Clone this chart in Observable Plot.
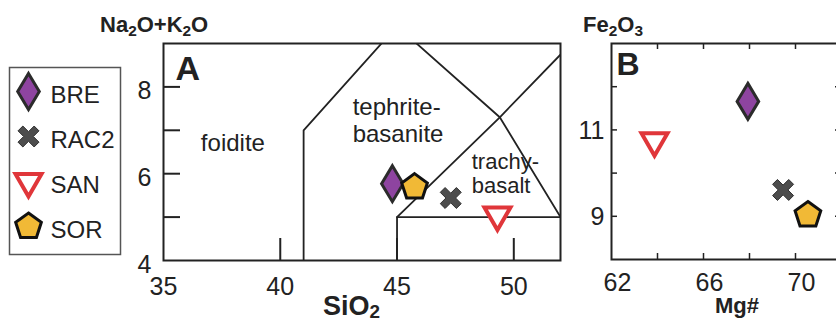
<!DOCTYPE html>
<html>
<head>
<meta charset="utf-8">
<script src="https://cdn.jsdelivr.net/npm/d3@7"></script>
<script src="https://cdn.jsdelivr.net/npm/@observablehq/plot@0.6"></script>
<style>
  html, body { margin: 0; padding: 0; background: #fff; overflow: hidden; }
  #chart { position: relative; width: 836px; height: 323px; overflow: hidden;
           font-family: "Liberation Sans", Arial, Helvetica, sans-serif; color: #222; }
  #chart svg { position: absolute; top: 0; }
  .title { position: absolute; font-weight: bold; line-height: 1; white-space: nowrap; }
  .title span { font-size: 0.7em; vertical-align: -0.25em; }
  .title.low span { vertical-align: -0.16em; }
</style>
</head>
<body>
<div id="chart">
  <div class="title" style="left:100px; top:14px; font-size:22px">Na<span>2</span>O+K<span>2</span>O</div>
  <div class="title low" style="left:323px; top:293px; font-size:27px">SiO<span>2</span></div>
  <div class="title" style="left:583px; top:14px; font-size:22px">Fe<span>2</span>O<span>3</span></div>
  <div class="title" style="left:715px; top:295px; font-size:22px">Mg#</div>
</div>
<script>
const INK = "#222";
const FONT = '"Liberation Sans", Arial, Helvetica, sans-serif';

// Samples and their compositions
const samples = ["BRE", "RAC2", "SAN", "SOR"];
const silica = [44.8, 47.3, 49.3, 45.75];     // SiO2 wt%
const alkalis = [5.77, 5.44, 5.05, 5.69];     // Na2O+K2O wt%
const mgNumber = [67.93, 69.46, 63.87, 70.54]; // Mg#
const ferric = [11.66, 9.61, 10.75, 9.03];    // Fe2O3 wt%

// Axis ticks
const silicaTicks = [40, 45, 50];
const silicaTickLabels = [35, 40, 45, 50];
const alkaliTicks = [5, 6, 7, 8];
const alkaliTickLabels = [4, 6, 8];
const mgTicks = [64, 66, 68, 70];
const mgTickLabels = [62, 66, 70];
const ironTicks = [9, 10, 11, 12];
const ironTickLabels = [9, 11];

// TAS field boundaries (Le Bas et al., 1986), as [SiO2, Na2O+K2O] vertices
const tasBoundaries = [
  [[41, 0], [41, 7], [45, 9.4]],
  [[45, 0], [45, 5], [52, 5]],
  [[45, 5], [49.4, 7.3], [53, 9.3]],
  [[45, 9.4], [49.4, 7.3], [52, 5]]
];
const fieldNames = ["foidite", "tephrite-\nbasanite", "trachy-\nbasalt"];
const fieldSilica = [36.6, 43.1, 48.2];
const fieldAlkalis = [6.72, 7.23, 6.0];

const rows = samples.map((sample, i) => ({
  sample, silica: silica[i], alkalis: alkalis[i], mg: mgNumber[i], fe: ferric[i]
}));
const fields = fieldNames.map((name, i) => ({name, x: fieldSilica[i], y: fieldAlkalis[i]}));

// Custom marker shapes (size = r²π, as passed by the dot mark)
const radius = (size) => Math.sqrt(size / Math.PI);
const tallDiamond = {draw(ctx, size) {
  const r = radius(size), w = r * 0.6;
  ctx.moveTo(0, -r); ctx.lineTo(w, 0); ctx.lineTo(0, r); ctx.lineTo(-w, 0); ctx.closePath();
}};
const triangleDown = {draw(ctx, size) {
  const r = radius(size), h = r * 0.57735;
  ctx.moveTo(-r, -h); ctx.lineTo(r, -h); ctx.lineTo(0, 2 * h); ctx.closePath();
}};
const pentagon = {draw(ctx, size) {
  const r = radius(size);
  for (let k = 0; k < 5; ++k) {
    const a = -Math.PI / 2 + k * 2 * Math.PI / 5;
    const px = r * Math.cos(a), py = r * Math.sin(a);
    k ? ctx.lineTo(px, py) : ctx.moveTo(px, py);
  }
  ctx.closePath();
}};
const thickCross = {draw(ctx, size) {
  const L = radius(size), t = L * 0.3, c = Math.SQRT1_2;
  const pts = [[t,-L],[t,-t],[L,-t],[L,t],[t,t],[t,L],[-t,L],[-t,t],[-L,t],[-L,-t],[-t,-t],[-t,-L]];
  pts.forEach(([x, y], k) => {
    const px = (x - y) * c, py = (x + y) * c;
    k ? ctx.lineTo(px, py) : ctx.moveTo(px, py);
  });
  ctx.closePath();
}};

const markerStyle = {
  BRE:  {symbol: tallDiamond,  r: 18,   fill: "#8e44a0", stroke: "#2b2b2b", strokeWidth: 3},
  RAC2: {symbol: thickCross,   r: 11.4, fill: "#4d4d4d", stroke: "#2f2f2f", strokeWidth: 1},
  SAN:  {symbol: triangleDown, r: 13,   fill: "#ffffff", stroke: "#e0363a", strokeWidth: 4},
  SOR:  {symbol: pentagon,     r: 13.5, fill: "#f1b936", stroke: "#111111", strokeWidth: 3}
};

const sampleDots = (x, y) =>
  samples.map((s) => Plot.dot(rows.filter((d) => d.sample === s), {x, y, ...markerStyle[s]}));

const plain = (d) => `${d}`;
const baseStyle = {fontFamily: FONT, color: INK, background: "transparent", overflow: "visible"};

// Panel A: total alkali vs silica
const A = {width: 450, height: 323, top: 43, bottom: 63, left: 43, right: 10};
const aW = A.width - A.left - A.right, aH = A.height - A.top - A.bottom;
const panelA = Plot.plot({
  width: A.width, height: A.height,
  marginTop: A.top, marginBottom: A.bottom, marginLeft: A.left, marginRight: A.right,
  x: {domain: [35, 52]},
  y: {domain: [4, 9]},
  style: baseStyle,
  marks: [
    ...tasBoundaries.map((b) => Plot.line(b, {x: (d) => d[0], y: (d) => d[1], stroke: INK, strokeWidth: 1.8, clip: true})),
    Plot.ruleY(alkaliTicks, {insetRight: aW - 17, stroke: INK, strokeWidth: 2}),
    Plot.ruleX(silicaTicks, {insetTop: aH - 22, stroke: INK, strokeWidth: 2}),
    Plot.axisX({ticks: silicaTickLabels, tickFormat: plain, tickSize: 0, tickPadding: 17, fontSize: 25, fill: INK, label: null}),
    Plot.axisY({ticks: alkaliTickLabels, tickFormat: plain, tickSize: 0, tickPadding: 12, dy: 4, fontSize: 25, fill: INK, label: null}),
    Plot.text(fields.slice(0, 2), {x: "x", y: "y", text: "name", textAnchor: "start", fontSize: 24, lineHeight: 1.12, fill: INK}),
    Plot.text(fields.slice(2), {x: "x", y: "y", text: "name", textAnchor: "start", fontSize: 22, lineHeight: 1.07, fill: INK}),
    Plot.text(["A"], {text: (d) => d, frameAnchor: "top-left", textAnchor: "start", lineAnchor: "top", dx: 12, dy: 12, fontSize: 34, fontWeight: "bold", fill: INK}),
    Plot.frame({stroke: INK, strokeWidth: 2}),
    ...sampleDots("silica", "alkalis")
  ]
});

// Panel B: Fe2O3 vs Mg#
const B = {width: 290, height: 323, top: 43, bottom: 64, left: 41, right: 19};
const bW = B.width - B.left - B.right, bH = B.height - B.top - B.bottom;
const panelB = Plot.plot({
  width: B.width, height: B.height,
  marginTop: B.top, marginBottom: B.bottom, marginLeft: B.left, marginRight: B.right,
  x: {domain: [62, 72]},
  y: {domain: [8, 13]},
  style: baseStyle,
  marks: [
    Plot.ruleY(ironTicks, {insetRight: bW - 6, stroke: INK, strokeWidth: 1.5}),
    Plot.ruleY(ironTicks, {insetLeft: bW - 6, stroke: INK, strokeWidth: 1.5}),
    Plot.ruleX(mgTicks, {insetTop: bH - 6, stroke: INK, strokeWidth: 1.5}),
    Plot.ruleX(mgTicks, {insetBottom: bH - 6, stroke: INK, strokeWidth: 1.5}),
    Plot.axisX({ticks: mgTickLabels, tickFormat: plain, tickSize: 0, tickPadding: 14, dx: 6, fontSize: 25, fill: INK, label: null}),
    Plot.axisY({ticks: ironTickLabels, tickFormat: plain, tickSize: 0, tickPadding: 7, dy: 1, fontSize: 25, fill: INK, label: null}),
    Plot.text(["B"], {text: (d) => d, frameAnchor: "top-left", textAnchor: "start", lineAnchor: "top", dx: 5, dy: 9, fontSize: 32, fontWeight: "bold", fill: INK}),
    Plot.frame({stroke: INK, strokeWidth: 2}),
    ...sampleDots("mg", "fe")
  ]
});

// Legend
const legend = Plot.plot({
  width: 113, height: 189, margin: 1,
  x: {domain: [0, 1], axis: null},
  y: {type: "point", domain: samples, range: [29, 164], padding: 0, axis: null},
  style: {...baseStyle, background: "#fff"},
  marks: [
    Plot.frame({stroke: "#555", strokeWidth: 1.5}),
    ...samples.map((s) => Plot.dot([s], {x: 0, y: (d) => d, dx: 19, dy: -4, ...markerStyle[s]})),
    Plot.text(samples, {x: 0, y: (d) => d, text: (d) => d, dx: 41, textAnchor: "start", fontSize: 24, fill: INK})
  ]
});

const chart = document.getElementById("chart");
function place(svg, left, top) {
  svg.style.left = left + "px";
  svg.style.top = top + "px";
  chart.append(svg);
}
place(legend, 8, 66);
place(panelA, 120, 0);
place(panelB, 570, 0);
</script>
</body>
</html>
